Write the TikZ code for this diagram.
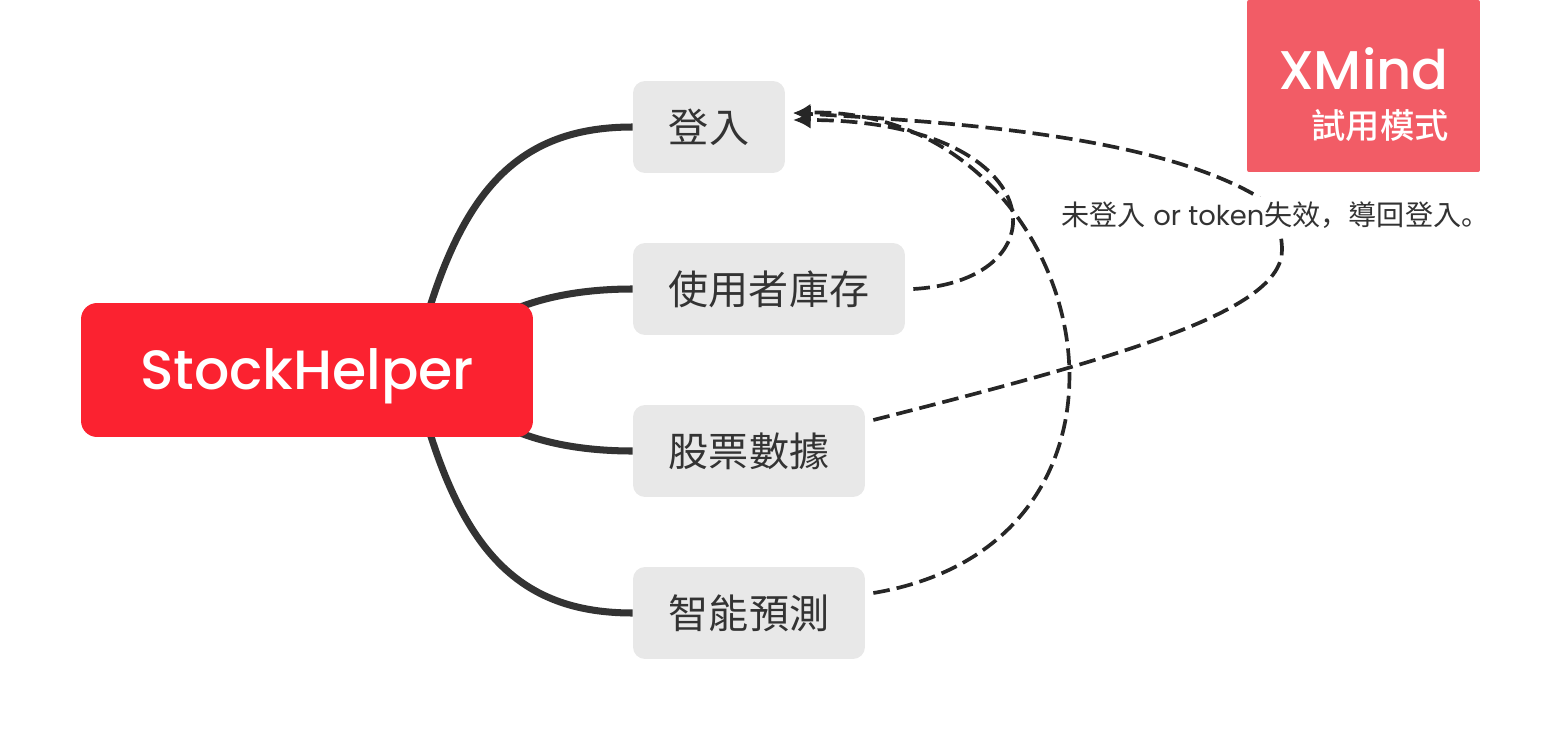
\documentclass[tikz,border=0pt]{standalone}
\usepackage{fontspec}
\setmainfont{Poppins}
\newfontfamily\headfont{Poppins Medium}
\newfontfamily\cjk{Noto Sans CJK TC}
\newfontfamily\cjkmark{Noto Sans CJK TC Medium}
\newfontfamily\cjkpunct{Noto Sans CJK SC}
\usetikzlibrary{arrows.meta,backgrounds}
\definecolor{hubred}{HTML}{FB2230}
\definecolor{markred}{HTML}{F25C66}
\definecolor{topicgray}{HTML}{E8E8E8}
\definecolor{inkgray}{HTML}{333333}
\tikzset{
	topicbox/.style={fill=topicgray, rounded corners=.24cm, inner sep=0pt, minimum height=1.84cm, text=inkgray, font=\cjk\fontsize{22.8}{26}\selectfont},
	branchline/.style={draw=inkgray, line width=4pt},
	linkline/.style={draw=black!85, line width=2.1pt, dash pattern=on 9.5pt off 4pt, -{Latex[length=10pt,width=10pt]}},
}
\begin{document}
\begin{tikzpicture}[x=0.02cm,y=-0.02cm]
		\useasboundingbox (0,0) rectangle (1568,740);
		\node[fill=hubred, rounded corners=.32cm, minimum width=9.04cm, minimum height=2.68cm, inner sep=0pt, text=white, text height=.9cm, text depth=.12cm, font=\headfont\fontsize{31.5}{38}\selectfont] (stockhelper) at (307,370) {StockHelper};
		\node[topicbox, minimum width=3.04cm] (login) at (709,127) {登入};
		\node[topicbox, minimum width=5.44cm] (inventory) at (769,289) {使用者庫存};
		\node[topicbox, minimum width=4.64cm] (stockdata) at (749,451) {股票數據};
		\node[topicbox, minimum width=4.64cm] (predict) at (749,613) {智能預測};
		
		\begin{scope}[on background layer]
		\draw[branchline] (stockhelper.center) ++(108,-10) .. controls +(40,-160) and (510,127) .. (login.west);
		\draw[branchline] (stockhelper.center) ++(195,-55) .. controls +(40,-20) and (590,289) .. (inventory.west);
		\draw[branchline] (stockhelper.center) ++(195,55) .. controls +(40,20) and (590,451) .. (stockdata.west);
		\draw[branchline] (stockhelper.center) ++(108,10) .. controls +(40,160) and (510,613) .. (predict.west);
		\end{scope}
		
		\coordinate (arrowa) at (793,120);%under the others
		\coordinate (arrowb) at (793,113);
		\draw[linkline] ([xshift=.16cm]inventory.east) .. controls (1068,280) and (1050,120) .. (arrowa);
		\draw[linkline] ([xshift=.16cm,yshift=.4cm]predict.east) .. controls (1190,540) and (1090,105) .. (arrowb);
		\draw[linkline] ([xshift=.16cm,yshift=.62cm]stockdata.east) .. controls (1130,355) and (1282,310) .. (1282,250) .. controls (1282,225) and (1270,205) .. (1255,195) .. controls (1150,135) and (950,122) .. (arrowb);
		
		\node[fill=white, inner sep=0pt, minimum height=.72cm, text=inkgray, font=\fontsize{15.6}{18}\selectfont] (note) at (1275.5,215) {{\cjk\fontsize{16}{18}\selectfont 未登入} or token{\cjk\fontsize{16}{18}\selectfont 失效{\cjkpunct ，}導回登入{\cjkpunct 。}}};
		
		\node[fill=markred, rounded corners=.04cm, minimum width=4.66cm, minimum height=3.44cm, inner sep=0pt] (mark) at (1363.5,86) {};
		\node[anchor=south east, inner sep=0pt, text=white, text height=.76cm, text depth=0pt, font=\headfont\fontsize{31}{36}\selectfont] (marktitle) at (1449,90) {XMind};
		\node[anchor=south east, inner sep=0pt, text=white, text height=.66cm, text depth=0pt, font=\cjkmark\fontsize{19.5}{22}\selectfont] (marksub) at (1449,139) {試用模式};
\end{tikzpicture}
\end{document}
